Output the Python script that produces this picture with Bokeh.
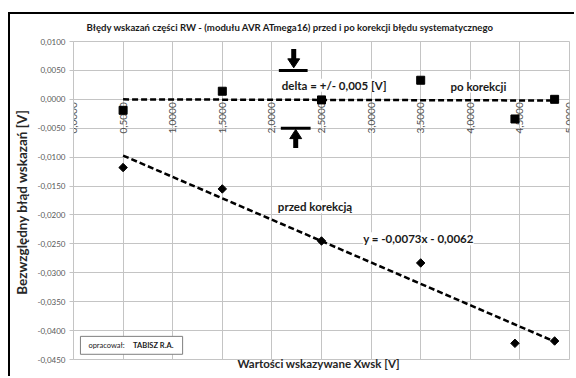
import numpy as np
from bokeh.plotting import figure
from bokeh.models import Range1d, FixedTicker, Label, ColumnDataSource
from bokeh.embed import file_html
from bokeh.resources import INLINE

# ---- data ----
x_meas = [0.5, 1.5, 2.5, 3.5, 4.45, 4.85]
err_after = [-0.0019, 0.0014, -0.0001, 0.0033, -0.0034, 0.0000]     # po korekcji
err_before = [-0.0118, -0.0155, -0.0245, -0.0283, -0.0422, -0.0418]  # przed korekcją

x_ticks = [0.0, 0.5, 1.0, 1.5, 2.0, 2.5, 3.0, 3.5, 4.0, 4.5, 5.0]
x_tick_labels = ["0,0000", "0,5000", "1,0000", "1,5000", "2,0000", "2,5000",
                 "3,0000", "3,5000", "4,0000", "4,5000", "5,0000"]
y_ticks = [0.01, 0.005, 0.0, -0.005, -0.01, -0.015, -0.02, -0.025, -0.03,
           -0.035, -0.04, -0.045]
y_tick_labels = ["0,0100", "0,0050", "0,0000", "-0,0050", "-0,0100", "-0,0150",
                 "-0,0200", "-0,0250", "-0,0300", "-0,0350", "-0,0400", "-0,0450"]

title_text = "Błędy wskazań  części RW - (modułu AVR ATmega16)  przed i po korekcji błędu systematycznego"
delta = 0.005

FONT = "Lato"
GRID = "#c4c4c4"

p = figure(width=566, height=364, output_backend="svg", toolbar_location=None,
           x_range=Range1d(0, 5), y_range=Range1d(-0.045, 0.01),
           min_border_left=60, min_border_right=7, min_border_top=26,
           min_border_bottom=19)
p.margin = (12, 0, 0, 8)
p.styles = {"border-left": "2px solid #000000", "border-top": "2px solid #000000"}
p.background_fill_color = "white"
p.border_fill_color = "white"
p.outline_line_color = GRID

# title
p.title.text = title_text
p.title.text_font = FONT
p.title.text_font_size = "9.6px"
p.title.text_font_style = "bold"
p.title.text_color = "#1a1a1a"
p.title.align = "left"
p.title.vertical_align = "top"
p.title.offset = 13
p.title.standoff = 14

# axes
p.xaxis.ticker = FixedTicker(ticks=[])
p.xaxis.major_label_standoff = 0
p.xaxis.major_tick_out = 0
p.xaxis.major_tick_in = 0
p.xaxis.minor_tick_line_color = None
p.xaxis.axis_line_color = None
p.xaxis.axis_label = "Wartości wskazywane  Xwsk  [V]"
p.xaxis.axis_label_text_font = FONT
p.xaxis.axis_label_text_font_size = "11.5px"
p.xaxis.axis_label_text_font_style = "bold"
p.xaxis.axis_label_text_color = "#262626"
p.xaxis.axis_label_standoff = -3

p.yaxis.ticker = FixedTicker(ticks=y_ticks)
p.yaxis.major_label_overrides = {t: l for t, l in zip(y_ticks, y_tick_labels)}
p.yaxis.major_label_text_font = FONT
p.yaxis.major_label_text_font_size = "8px"
p.yaxis.major_label_text_color = "#595959"
p.yaxis.major_tick_out = 4
p.yaxis.major_tick_in = 0
p.yaxis.major_tick_line_color = GRID
p.yaxis.minor_tick_line_color = None
p.yaxis.axis_line_color = GRID
p.yaxis.major_label_standoff = 4
p.yaxis.axis_label = "Bezwzględny błąd wskazań  [V]"
p.yaxis.axis_label_text_font = FONT
p.yaxis.axis_label_text_font_size = "13.5px"
p.yaxis.axis_label_text_font_style = "bold"
p.yaxis.axis_label_text_color = "#262626"
p.yaxis.axis_label_standoff = 5

p.xgrid.ticker = FixedTicker(ticks=x_ticks)
p.ygrid.ticker = FixedTicker(ticks=y_ticks)
p.grid.grid_line_color = GRID
p.grid.grid_line_width = 1

# x tick labels placed along the y = 0 line
xl = ColumnDataSource(dict(x=x_ticks, y=[0.0] * len(x_ticks), t=x_tick_labels))
p.text(x="x", y="y", text="t", source=xl, angle=np.pi / 2, text_align="right",
       text_baseline="middle", y_offset=3, text_font_size="10px",
       text_color="#505050", text_font={"value": FONT})

# trend lines (least squares fit of the data, like the spreadsheet trendline)
xa = np.array(x_meas)
ka, ba = np.polyfit(xa, np.array(err_after), 1)
kb, bb = np.polyfit(xa, np.array(err_before), 1)
xe = [xa.min(), xa.max()]
p.line(xe, [ka * v + ba for v in xe], line_color="black", line_width=2.5,
       line_dash="6 3")
p.line(xe, [kb * v + bb for v in xe], line_color="black", line_width=2.5,
       line_dash="6 3")

# points
p.scatter(x_meas, err_after, marker="square", size=8, color="black")
p.scatter(x_meas, err_before, marker="square", angle=np.pi / 4, size=6,
          color="black")

# delta arrows
ax_top, ax_bot = 2.22, 2.24
p.segment(x0=[2.07, 2.09], y0=[delta, -delta], x1=[2.36, 2.39], y1=[delta, -delta],
          line_color="black", line_width=3)
p.segment(x0=[ax_top, ax_bot], y0=[0.0087, -0.0084], x1=[ax_top, ax_bot],
          y1=[0.0068, -0.0066], line_color="black", line_width=5, line_cap="butt")
p.patches(xs=[[ax_top - 0.06, ax_top + 0.06, ax_top],
              [ax_bot - 0.06, ax_bot + 0.06, ax_bot]],
          ys=[[0.0070, 0.0070, 0.00545], [-0.0068, -0.0068, -0.0052]],
          fill_color="black", line_color="black")

def lab(x, y, text, bold=True, size="11.5px", bg=True):
    p.add_layout(Label(x=x, y=y, text=text, text_font=FONT, text_font_size=size,
                       text_font_style="bold" if bold else "normal",
                       text_color="#1a1a1a", text_baseline="middle",
                       background_fill_color="white" if bg else None,
                       background_fill_alpha=1.0 if bg else 0))

lab(2.10, 0.00245, "delta =  +/-  0,005 [V]")
lab(3.80, 0.0023, "po  korekcji")
lab(2.06, -0.01856, "przed korekcją")
lab(2.92, -0.0241, "y = -0,0073x - 0,0062")

# author box
p.quad(left=[0.07], right=[1.10], top=[-0.0410], bottom=[-0.0441],
       fill_color="white", line_color="#7f7f7f", line_width=1)
lab(0.15, -0.04255, "opracował:", bold=False, size="7.5px", bg=False)
lab(0.60, -0.04255, "TABISZ R.A.", bold=True, size="7.5px", bg=False)

open("out.html", "w").write(file_html(p, INLINE))
